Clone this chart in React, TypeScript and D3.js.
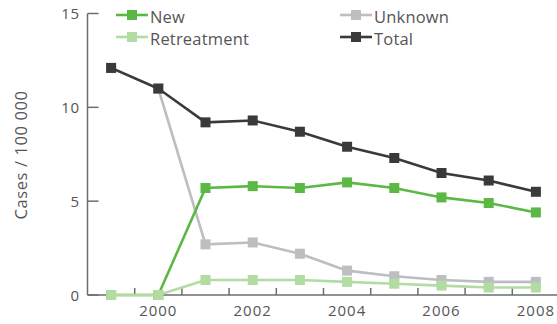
import React, { useEffect, useRef } from 'react';
import * as d3 from 'd3';

const years = [1999, 2000, 2001, 2002, 2003, 2004, 2005, 2006, 2007, 2008];
const unknown = [12.1, 11.0, 2.7, 2.8, 2.2, 1.3, 1.0, 0.8, 0.7, 0.7];
const total = [12.1, 11.0, 9.2, 9.3, 8.7, 7.9, 7.3, 6.5, 6.1, 5.5];
const newCases = [0, 0, 5.7, 5.8, 5.7, 6.0, 5.7, 5.2, 4.9, 4.4];
const retreatment = [0, 0, 0.8, 0.8, 0.8, 0.7, 0.6, 0.5, 0.4, 0.4];
const yTicks = [0, 5, 10, 15];
const xLabels = [2000, 2002, 2004, 2006, 2008];

const series = [
  { name: 'Unknown', values: unknown, color: '#bdbdc2' },
  { name: 'Total', values: total, color: '#3a3a3a' },
  { name: 'New', values: newCases, color: '#5bb844' },
  { name: 'Retreatment', values: retreatment, color: '#b2dca2' },
];

const legendOrder = ['New', 'Retreatment', 'Unknown', 'Total'];

export default function App() {
  const svgRef = useRef<SVGSVGElement>(null);

  useEffect(() => {
    if (!svgRef.current) return;
    const svg = d3.select(svgRef.current);
    svg.selectAll('*').remove();

    const font = "'Open Sans', sans-serif";
    const textColor = '#555557';
    const axisColor = '#6d6d6f';

    const x = d3.scaleLinear().domain([1998.5, 2008.5]).range([87.5, 559.5]);
    const y = d3.scaleLinear().domain([0, 15]).range([295, 13.5]);

    const g = svg.append('g');

    // y axis
    g.append('line')
      .attr('x1', x(1998.5)).attr('x2', x(1998.5))
      .attr('y1', y(15)).attr('y2', y(0))
      .attr('stroke', axisColor).attr('stroke-width', 1.5);
    yTicks.forEach((t) => {
      g.append('line')
        .attr('x1', x(1998.5)).attr('x2', x(1998.5) + 11)
        .attr('y1', y(t)).attr('y2', y(t))
        .attr('stroke', axisColor).attr('stroke-width', 1.5);
      g.append('text')
        .attr('x', 80).attr('y', y(t) + 5.5)
        .attr('text-anchor', 'end')
        .style('font-family', font).style('font-size', '15px').style('fill', textColor)
        .style('letter-spacing', '0.8px')
        .text(t);
    });

    // x axis
    g.append('line')
      .attr('x1', x(1998.5)).attr('x2', x(2008.5))
      .attr('y1', y(0)).attr('y2', y(0))
      .attr('stroke', axisColor).attr('stroke-width', 1.5);
    years.slice(0, -1).forEach((yr) => {
      g.append('line')
        .attr('x1', x(yr + 0.5)).attr('x2', x(yr + 0.5))
        .attr('y1', y(0)).attr('y2', y(0) - 7)
        .attr('stroke', axisColor).attr('stroke-width', 1.5);
    });
    xLabels.forEach((yr) => {
      g.append('text')
        .attr('x', x(yr)).attr('y', 316)
        .attr('text-anchor', 'middle')
        .style('font-family', font).style('font-size', '15px').style('fill', textColor)
        .style('letter-spacing', '1px')
        .text(yr);
    });

    // y title
    g.append('text')
      .attr('transform', `translate(27,155) rotate(-90)`)
      .attr('text-anchor', 'middle')
      .style('font-family', font).style('font-size', '16.5px').style('fill', textColor)
      .style('letter-spacing', '0.6px')
      .text('Cases / 100 000');

    // lines
    const line = d3.line<number>()
      .x((_, i) => x(years[i]))
      .y((d) => y(d));

    series.forEach((s) => {
      g.append('path')
        .datum(s.values)
        .attr('d', line)
        .attr('fill', 'none')
        .attr('stroke', s.color)
        .attr('stroke-width', 2.6);
      g.selectAll(null)
        .data(s.values)
        .enter()
        .append('rect')
        .attr('x', (_, i) => x(years[i]) - 5)
        .attr('y', (d) => y(d) - 5)
        .attr('width', 10)
        .attr('height', 10)
        .attr('fill', s.color);
    });

    // legend
    const legend = g.append('g');
    legendOrder.forEach((name, i) => {
      const s = series.find((d) => d.name === name)!;
      const lx = i < 2 ? 116 : 340;
      const ly = i % 2 === 0 ? 15 : 37;
      legend.append('line')
        .attr('x1', lx).attr('x2', lx + 32)
        .attr('y1', ly).attr('y2', ly)
        .attr('stroke', s.color).attr('stroke-width', 2.6);
      legend.append('rect')
        .attr('x', lx + 11).attr('y', ly - 5)
        .attr('width', 10).attr('height', 10)
        .attr('fill', s.color);
      legend.append('text')
        .attr('x', lx + 34).attr('y', ly + 7.5)
        .style('font-family', font).style('font-size', '16.5px').style('fill', textColor)
        .style('letter-spacing', '0.2px')
        .text(name);
    });
  }, []);

  return (
    <div style={{ position: 'absolute', left: 0, top: 0 }}>
      <svg ref={svgRef} width={557} height={324} style={{ display: 'block' }}></svg>
    </div>
  );
}
